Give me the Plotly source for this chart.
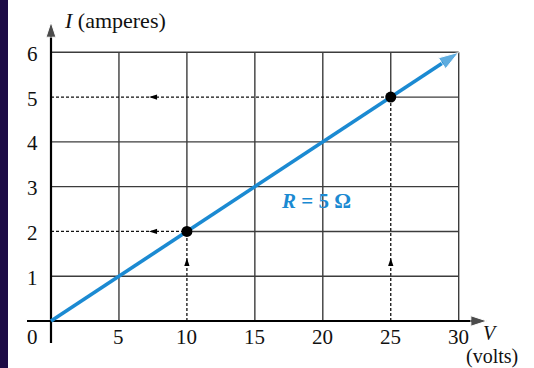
import plotly.graph_objects as go

# ---- data ----
V_ticks = [0, 5, 10, 15, 20, 25, 30]
I_ticks = [0, 1, 2, 3, 4, 5, 6]
x_tick_labels = ["5", "10", "15", "20", "25", "30"]
y_tick_labels = ["1", "2", "3", "4", "5", "6"]
origin_label = "0"
line_V = [0, 30]
line_I = [0, 6]
point_V = [10, 25]
point_I = [2, 5]
r_label = "<b><i>R</i> = 5 Ω</b>"
y_title = "<i>I</i> (amperes)"
x_title = "<i>V</i>"
x_unit = "(volts)"

# ---- geometry (pixel calibration) ----
W, H = 534, 368
X0PX, X30PX = 51.0, 458.7
Y0PX, Y6PX = 321.0, 52.3
pxV = (X30PX - X0PX) / 30.0
pxI = (Y0PX - Y6PX) / 6.0
xr = [-X0PX / pxV, (W - X0PX) / pxV]
yr = [-(H - Y0PX) / pxI, Y0PX / pxI]

def vx(px):
    return (px - X0PX) / pxV

def iy(py):
    return (Y0PX - py) / pxI

BLUE = "#1b8ad2"
GRID = "#3c3c3c"
FONT = "Liberation Serif"

fig = go.Figure()
shapes = []

vmax, imax = V_ticks[-1], I_ticks[-1]
pts = dict(zip(point_V, point_I))
pts_i = dict(zip(point_I, point_V))

def seg(x0, y0, x1, y1, dash=None, color=GRID, width=1.4):
    shapes.append(dict(type="line", xref="x", yref="y", x0=x0, y0=y0, x1=x1, y1=y1,
                       line=dict(color=color, width=width, dash=dash or "solid"), layer="below"))

for v in V_ticks[1:]:
    if v in pts:
        seg(v, 0, v, pts[v], dash="3px,2px", color="#111", width=1.3)
        seg(v, pts[v], v, imax)
    else:
        seg(v, 0, v, imax)
for i in I_ticks[1:]:
    if i in pts_i:
        seg(0, i, pts_i[i], i, dash="3px,2px", color="#111", width=1.3)
        seg(pts_i[i], i, vmax, i)
    else:
        seg(0, i, vmax, i)

# left dark band
shapes.append(dict(type="rect", xref="paper", yref="paper", x0=0, x1=8 / W, y0=0, y1=1,
                   fillcolor="#1d0b45", line=dict(width=0), layer="below"))

# axes
fig.add_trace(go.Scatter(x=[vx(27), vx(487)], y=[0, 0], mode="lines+markers",
                         line=dict(color="black", width=2.2),
                         marker=dict(symbol="arrow", size=[0, 17], angleref="previous", color="black"),
                         hoverinfo="skip", showlegend=False))
fig.add_trace(go.Scatter(x=[0, 0], y=[iy(343), iy(22)], mode="lines+markers",
                         line=dict(color="black", width=2.2),
                         marker=dict(symbol="arrow", size=[0, 16], angleref="previous", color="black"),
                         hoverinfo="skip", showlegend=False))

# guide arrows on dashed lines
fig.add_trace(go.Scatter(x=[vx(149)] * len(point_I), y=point_I, mode="markers",
                         marker=dict(symbol="arrow", size=8.5, angle=-90, color="black"),
                         hoverinfo="skip", showlegend=False))
fig.add_trace(go.Scatter(x=point_V, y=[iy(258)] * len(point_V), mode="markers",
                         marker=dict(symbol="arrow", size=8.5, angle=0, color="black"),
                         hoverinfo="skip", showlegend=False))

# resistor line
fig.add_trace(go.Scatter(x=line_V, y=line_I, mode="lines+markers",
                         line=dict(color=BLUE, width=3.6),
                         marker=dict(symbol="arrow", size=[0, 21], angleref="previous", color=BLUE),
                         hoverinfo="skip", showlegend=False))

# operating points
fig.add_trace(go.Scatter(x=point_V, y=point_I, mode="markers",
                         marker=dict(symbol="circle", size=11, color="black"),
                         hoverinfo="skip", showlegend=False))

ann = []
tf = dict(family=FONT, size=21, color="#111")
ttf = dict(family=FONT, size=22, color="#111")
utf = dict(family=FONT, size=20, color="#111")
ann.append(dict(x=0, y=0, xref="x", yref="y", text=origin_label, showarrow=False,
                xshift=-18.5, yshift=-16, font=tf))
for v, t in zip(V_ticks[1:], x_tick_labels):
    ann.append(dict(x=v, y=0, xref="x", yref="y", text=t, showarrow=False, yshift=-16, font=tf))
for i, t in zip(I_ticks[1:], y_tick_labels):
    ann.append(dict(x=0, y=i, xref="x", yref="y", text=t, showarrow=False,
                    xshift=-18.5, yshift=-1.5, font=tf))
ann.append(dict(x=vx(62), y=iy(20), xref="x", yref="y", text=y_title, showarrow=False,
                xanchor="left", font=ttf))
ann.append(dict(x=vx(490), y=iy(333), xref="x", yref="y", text=x_title, showarrow=False, font=utf))
ann.append(dict(x=vx(492), y=iy(356), xref="x", yref="y", text=x_unit, showarrow=False, font=utf))
ann.append(dict(x=vx(316), y=iy(201), xref="x", yref="y", text=r_label, showarrow=False,
                font=dict(family=FONT, size=21, color=BLUE)))

fig.update_layout(
    width=W, height=H, margin=dict(l=0, r=0, t=0, b=0),
    paper_bgcolor="white", plot_bgcolor="white",
    xaxis=dict(range=xr, visible=False, fixedrange=True),
    yaxis=dict(range=yr, visible=False, fixedrange=True),
    shapes=shapes, annotations=ann, showlegend=False,
)
fig.write_html("out.html", config={"displayModeBar": False},
               post_script="document.body.style.margin='0';document.body.style.overflow='hidden';")
